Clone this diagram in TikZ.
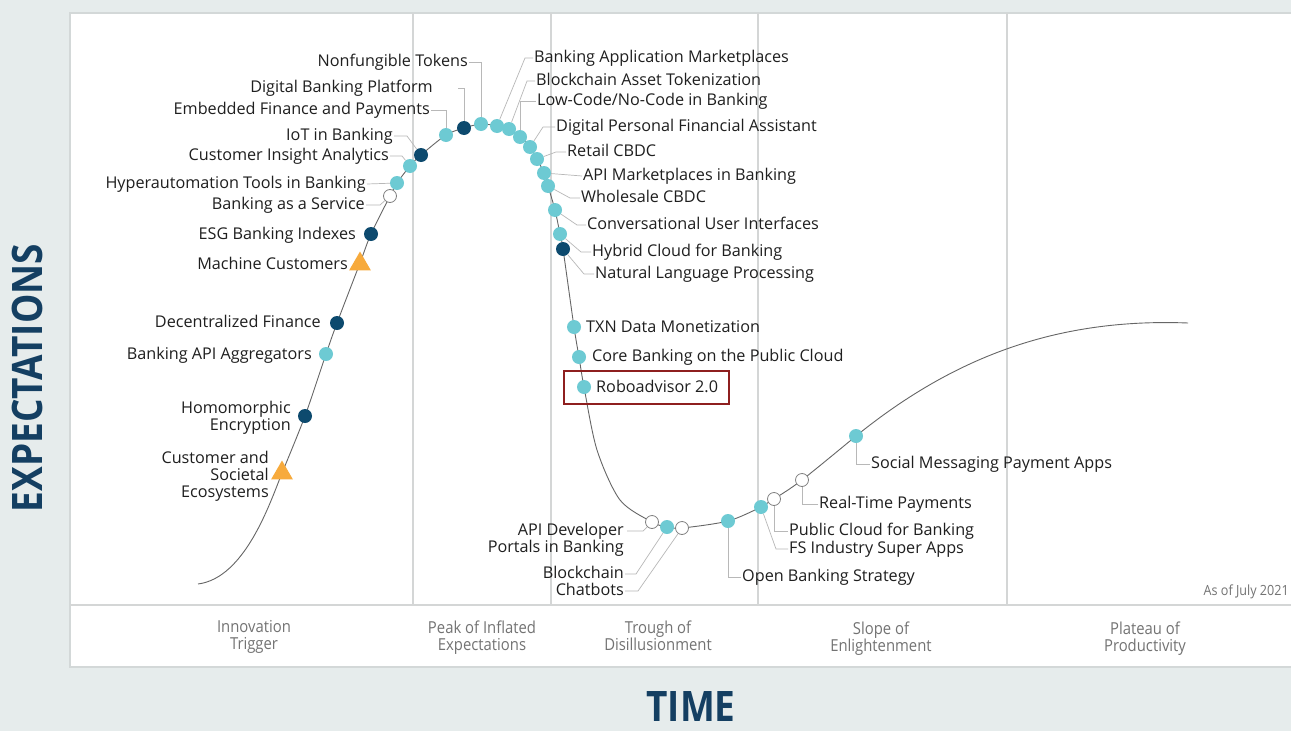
\documentclass[tikz,border=0pt]{standalone}
\usepackage{fontspec}
\setmainfont{Open Sans}
\newfontfamily\phasefont[FakeStretch=0.9]{Open Sans}
\newfontfamily\axisfont[FakeStretch=0.88]{Open Sans}
\usetikzlibrary{shapes.geometric,fit}

\definecolor{bgpanel}{HTML}{E6ECEC}
\definecolor{panelline}{HTML}{D3D8D8}
\definecolor{gridgray}{HTML}{D4D6D6}
\definecolor{dotteal}{HTML}{6DCAD3}
\definecolor{dotnavy}{HTML}{0D4A6E}
\definecolor{dotorange}{HTML}{F7AA3C}
\definecolor{axisnavy}{HTML}{143F62}
\definecolor{leadgray}{HTML}{B8B8B8}
\definecolor{boxred}{HTML}{8E1F1F}

\begin{document}
\begin{tikzpicture}[x=1pt, y=-1pt,
  dot/.style={circle, inner sep=0pt, minimum size=14pt},
  teal dot/.style={dot, fill=dotteal},
  navy dot/.style={dot, fill=dotnavy},
  open dot/.style={dot, fill=white, draw=gray, line width=0.8pt, minimum size=13pt},
  tri/.style={regular polygon, regular polygon sides=3, inner sep=0pt,
    minimum size=25pt, fill=dotorange},
  lbl/.style={font=\fontsize{16.2}{17}\selectfont, text=black!88, inner sep=1pt,
    text height=11pt, text depth=3pt},
  lbl2/.style={font=\fontsize{16.2}{17}\selectfont, text=black!88, inner sep=1pt,
    align=right, anchor=north east},
  lead/.style={draw=leadgray, line width=0.7pt},
  grid/.style={draw=gridgray, line width=1.5pt},
  curve/.style={draw=black!60, line width=0.9pt},
  phase/.style={font=\phasefont\fontsize{16.5}{17}\selectfont, text=black!55,
    align=center, anchor=north}]

  % Background and panel
  \useasboundingbox (0,0) rectangle (1291,731);
  \fill[bgpanel] (0,0) rectangle (1291,731);
  \draw[panelline, fill=white, line width=2pt] (70,13) rectangle (1300,667);

  % Phase dividers
  \draw[grid] (70,605) -- (1291,605);
  \draw[grid] (413,13) -- (413,605) (551,13) -- (551,605)
              (758,13) -- (758,605) (1007,13) -- (1007,605);

  % Hype curve
  \draw[curve] (198,584) .. controls (245,578) and (270,503) .. (282,473)
    -- plot[smooth, tension=0.5] coordinates {
    (282,473) (305,416)
    (326,354) (337,323) (360,263) (371,234) (390,196) (397,183) (410,166)
    (421,155) (446,135) (464,128) (481,124) (497,126) (509,129) (520,137)
    (530,147) (537,159) (544,173) (548,186) (555,210) (560,234) (563,249)
    (574,327) (579,357) (584,387) (597,450) (620,500) (652,522) (667,527)
    (682,528) (728,521) (761,507) (774,499) (802,480) (856,436)}
    .. controls (956,355) and (1060,318) .. (1188,323);

  % Rising slope
  \node[tri] (cse) at (282,473) {};
  \node[lbl2] (csel) at (270,450) {Customer and\\Societal\\Ecosystems};
  \node[navy dot] (homo) at (305,416) {};
  \node[lbl2] (homol) at (292,400) {Homomorphic\\Encryption};
  \node[teal dot] (bapi) at (326,354) {};
  \node[lbl, anchor=east] (bapil) at (313,355) {Banking API Aggregators};
  \node[navy dot] (defi) at (337,323) {};
  \node[lbl, anchor=east] (defil) at (322,323) {Decentralized Finance};
  \node[tri] (mach) at (360,264) {};
  \node[lbl, anchor=east] (machl) at (349,265) {Machine Customers};
  \node[navy dot] (esg) at (371,234) {};
  \node[lbl, anchor=east] (esgl) at (357,235) {ESG Banking Indexes};
  \node[open dot] (baas) at (390,196) {};
  \node[lbl, anchor=east] (baasl) at (366,205) {Banking as a Service};
  \node[teal dot] (hyper) at (397,183) {};
  \node[lbl, anchor=east] (hyperl) at (367,184) {Hyperautomation Tools in Banking};
  \node[teal dot] (cia) at (410,166) {};
  \node[lbl, anchor=east] (cial) at (390,156) {Customer Insight Analytics};
  \node[navy dot] (iot) at (421,155) {};
  \node[lbl, anchor=east] (iotl) at (394,136) {IoT in Banking};
  \node[teal dot] (emb) at (446,135) {};
  \node[lbl, anchor=east] (embl) at (431,110) {Embedded Finance and Payments};
  \node[navy dot] (dbp) at (464,128) {};
  \node[lbl, anchor=east] (dbpl) at (434,88) {Digital Banking Platform};
  \node[teal dot] (nft) at (481,124) {};
  \node[lbl, anchor=east] (nftl) at (469,62) {Nonfungible Tokens};

  \draw[lead] (baasl.east) -- ++(14,0) -- (baas);
  \draw[lead] (hyperl.east) -- (hyper);
  \draw[lead] (cial.east) -- ++(12,0) -- (cia);
  \draw[lead] (iotl.east) -- ++(13,0) -- (iot);
  \draw[lead] (embl.east) -| (emb);
  \draw[lead] ([xshift=24pt]dbpl.east) -| (dbp);
  \draw[lead] (nftl.east) -| (nft);

  % Peak and falling slope
  \node[teal dot] (bam) at (497,126) {};
  \node[lbl, anchor=west] (baml) at (533,58) {Banking Application Marketplaces};
  \node[teal dot] (bat) at (509,129) {};
  \node[lbl, anchor=west] (batl) at (535,81) {Blockchain Asset Tokenization};
  \node[teal dot] (lcnc) at (520,137) {};
  \node[lbl, anchor=west] (lcncl) at (536,101) {Low-Code/No-Code in Banking};
  \node[teal dot] (dpfa) at (530,147) {};
  \node[lbl, anchor=west] (dpfal) at (555,127) {Digital Personal Financial Assistant};
  \node[teal dot] (rcbdc) at (537,159) {};
  \node[lbl, anchor=west] (rcbdcl) at (566,152) {Retail CBDC};
  \node[teal dot] (apim) at (544,173) {};
  \node[lbl, anchor=west] (apiml) at (582,176) {API Marketplaces in Banking};
  \node[teal dot] (wcbdc) at (548,186) {};
  \node[lbl, anchor=west] (wcbdcl) at (580,198) {Wholesale CBDC};
  \node[teal dot] (cui) at (555,210) {};
  \node[lbl, anchor=west] (cuil) at (586,225) {Conversational User Interfaces};
  \node[teal dot] (hcb) at (560,234) {};
  \node[lbl, anchor=west] (hcbl) at (591,252) {Hybrid Cloud for Banking};
  \node[navy dot] (nlp) at (563,249) {};
  \node[lbl, anchor=west] (nlpl) at (594,274) {Natural Language Processing};
  \node[teal dot] (txn) at (574,327) {};
  \node[lbl, anchor=west] (txnl) at (585,328) {TXN Data Monetization};
  \node[teal dot] (cbpc) at (579,357) {};
  \node[lbl, anchor=west] (cbpcl) at (591,357) {Core Banking on the Public Cloud};
  \node[teal dot] (robo) at (584,387) {};
  \node[lbl, anchor=west] (robol) at (595,388) {Roboadvisor 2.0};
  \node[draw=boxred, line width=1.5pt, inner sep=0pt, fit={(564,371) (729,404)}] (robobox) {};

  \draw[lead] (baml.west) -- ++(-8,0) -- (bam);
  \draw[lead] (batl.west) -- ++(-8,0) -- (bat);
  \draw[lead] (lcncl.west) -| (lcnc);
  \draw[lead] (dpfal.west) -- ++(-12,0) -- (dpfa);
  \draw[lead] (rcbdcl.west) -- ++(-10,0) -- (rcbdc);
  \draw[lead] (apiml.west) -- (apim);
  \draw[lead] (wcbdcl.west) -- ++(-10,0) -- (wcbdc);
  \draw[lead] (cuil.west) -- ++(-9,0) -- (cui);
  \draw[lead] (hcbl.west) -- ++(-10,0) -- (hcb);
  \draw[lead] (nlpl.west) -- ++(-10,0) -- (nlp);

  % Trough and recovery
  \node[open dot] (apid) at (652,522) {};
  \node[lbl2] (apidl) at (625,522) {API Developer\\Portals in Banking};
  \node[teal dot] (bc) at (667,527) {};
  \node[lbl, anchor=east] (bcl) at (625,574) {Blockchain};
  \node[open dot] (chat) at (682,528) {};
  \node[lbl, anchor=east] (chatl) at (625,591) {Chatbots};
  \node[teal dot] (obs) at (728,521) {};
  \node[lbl, anchor=west] (obsl) at (741,577) {Open Banking Strategy};
  \node[teal dot] (fsis) at (761,507) {};
  \node[lbl, anchor=west] (fsisl) at (788,549) {FS Industry Super Apps};
  \node[open dot] (pcb) at (774,499) {};
  \node[lbl, anchor=west] (pcbl) at (788,531) {Public Cloud for Banking};
  \node[open dot] (rtp) at (802,480) {};
  \node[lbl, anchor=west] (rtpl) at (818,504) {Real-Time Payments};
  \node[teal dot] (smpa) at (856,436) {};
  \node[lbl, anchor=west] (smpal) at (870,464) {Social Messaging Payment Apps};

  \draw[lead] (apidl.north east) ++(2,9) -- ++(16,0) -- (apid);
  \draw[lead] (bcl.east) -- ++(11,0) -- (bc);
  \draw[lead] (chatl.east) -- ++(13,0) -- (chat);
  \draw[lead] (obsl.west) -| (obs);
  \draw[lead] (fsisl.west) -- ++(-12,0) -- (fsis);
  \draw[lead] (pcbl.west) -| (pcb);
  \draw[lead] (rtpl.west) -| (rtp);
  \draw[lead] (smpal.west) -| (smpa);

  % Phases
  \node[phase] (p1) at (254,617) {Innovation\\Trigger};
  \node[phase] (p2) at (482,617) {Peak of Inflated\\Expectations};
  \node[phase] (p3) at (658,617) {Trough of\\Disillusionment};
  \node[phase] (p4) at (881,618) {Slope of\\Enlightenment};
  \node[phase] (p5) at (1145,618) {Plateau of\\Productivity};
  \node[font=\phasefont\fontsize{14}{16}\selectfont, text=black!55, anchor=east,
    inner sep=0pt] (asof) at (1289,592) {As of July 2021};

  % Axis titles
  \node[font=\axisfont\bfseries\fontsize{42}{46}\selectfont, text=axisnavy, rotate=90]
    (yaxis) at (27,378) {EXPECTATIONS};
  \node[font=\axisfont\bfseries\fontsize{42}{46}\selectfont, text=axisnavy,
    inner sep=0pt] (xaxis) at (691,707) {TIME};
\end{tikzpicture}
\end{document}
